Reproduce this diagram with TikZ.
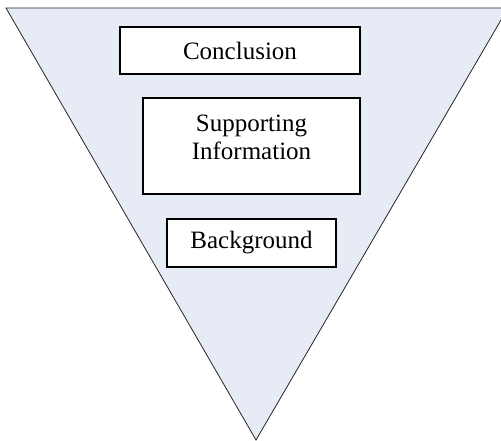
\documentclass[tikz,border=0pt]{standalone}
\usepackage{fontspec}
\setmainfont{Liberation Serif}
\usepackage{tikz}
\usetikzlibrary{positioning}
\definecolor{funnelfill}{RGB}{231,235,245}
\tikzset{
    stagebox/.style={draw=black, fill=white, line width=1.3pt, inner sep=0pt, align=center,
        font=\fontsize{25}{28}\selectfont}
}

\begin{document}
\begin{tikzpicture}[x=1pt, y=-1pt]
    \useasboundingbox (0,0) rectangle (501,441);
    % Funnel
    \coordinate (tl) at (6,8);
    \coordinate (tr) at (508,8);
    \coordinate (tip) at (256,440);
    \draw [fill=funnelfill, draw=black!85, line width=0.8pt] (tl) -- (tr) -- (tip) -- cycle;
    % Boxes
    \node [stagebox, minimum width=240pt, minimum height=47pt] (concl) at (240,50.5) {Conclusion};
    \node [stagebox, minimum width=217pt, minimum height=96pt] (support) at (251.5,146) {Supporting\\Information\\[-18pt]\strut};
    \node [stagebox, minimum width=169pt, minimum height=48pt] (backgr) at (251.5,243) {Background};
\end{tikzpicture}
\end{document}
